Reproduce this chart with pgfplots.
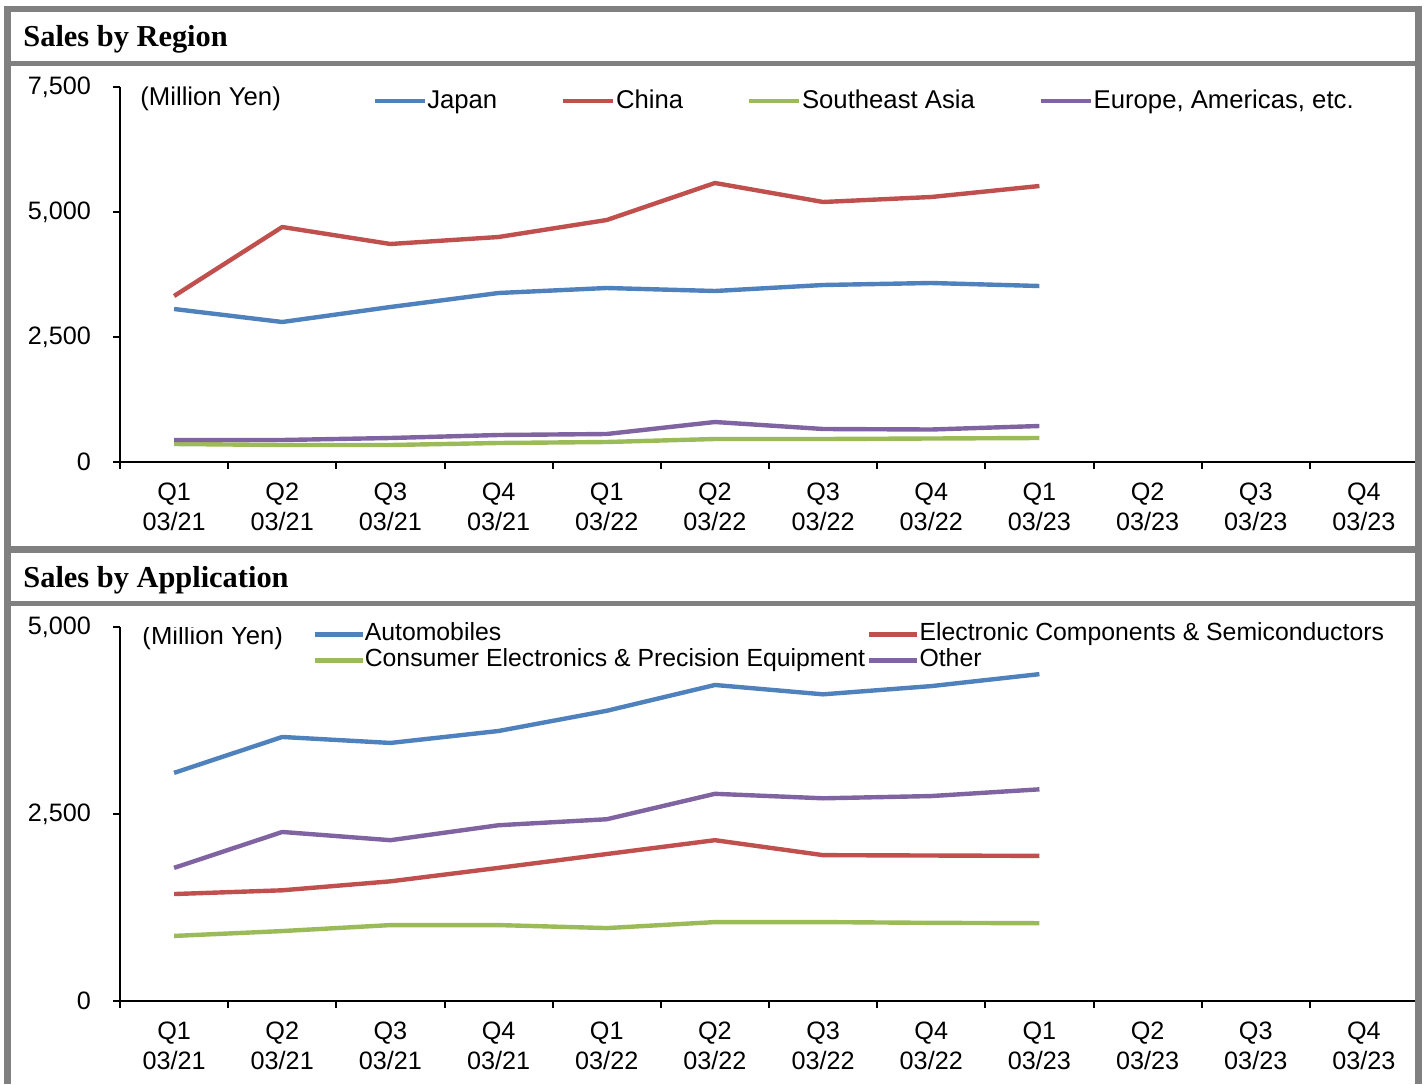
\documentclass[border=0pt]{standalone}
\usepackage{fontspec}
\setmainfont{Liberation Sans}
\newfontfamily\titlefont{Liberation Serif}
\usepackage{pgfplots}
\pgfplotsset{compat=1.18}
\definecolor{cblue}{HTML}{4F81BD}
\definecolor{cred}{HTML}{C0504D}
\definecolor{cgreen}{HTML}{9BBB59}
\definecolor{cpurple}{HTML}{8064A2}
\definecolor{bord}{HTML}{808080}
\pgfplotsset{
 panel/.style={
  scale only axis, width=649pt,
  xmin=0, xmax=12,
  axis x line*=bottom, axis y line*=left,
  axis line style={line width=1pt, -},
  xtick={0,...,12},
  x tick label as interval,
  xticklabels={{Q1\\03/21},{Q2\\03/21},{Q3\\03/21},{Q4\\03/21},{Q1\\03/22},{Q2\\03/22},{Q3\\03/22},{Q4\\03/22},{Q1\\03/23},{Q2\\03/23},{Q3\\03/23},{Q4\\03/23}},
  tick align=outside,
  major tick length=3.3pt,
  tick style={line width=1pt, black},
  ticklabel style={font=\fontsize{12.6}{15}\selectfont},
  xticklabel style={align=center, inner sep=0pt, yshift=-7pt},
  yticklabel style={inner sep=0pt, xshift=-11pt},
  legend style={draw=none, fill=none, inner sep=0pt,
    nodes={inner sep=0pt}},
  legend cell align=left,
  every axis plot/.append style={line width=2.2pt, line join=round},
 }
}
\begin{document}
\begin{tikzpicture}
\useasboundingbox (0pt,0pt) rectangle (712pt,542pt);
% top panel
\begin{axis}[panel, at={(60pt,311pt)}, anchor=origin, height=187.5pt,
  ymin=0, ymax=7500, ytick={0,2500,5000,7500}, yticklabels={0,{2,500},{5,000},{7,500}},
  legend columns=4,
  legend image code/.code={\draw[#1, line width=2.2pt] (0pt,0pt) -- (25pt,0pt);},
  legend style={at={(0.1942,0.963)}, anchor=west, font=\fontsize{12.85}{13}\selectfont,
    /tikz/every even column/.append style={column sep=32pt},
    /tikz/every odd column/.append style={column sep=0.2pt}}]
\addplot[cblue] coordinates {(0.5,3060)(1.5,2800)(2.5,3100)(3.5,3380)(4.5,3480)(5.5,3420)(6.5,3540)(7.5,3580)(8.5,3520)};
\addlegendentry{Japan}
\addplot[cred] coordinates {(0.5,3320)(1.5,4700)(2.5,4360)(3.5,4500)(4.5,4840)(5.5,5580)(6.5,5200)(7.5,5300)(8.5,5520)};
\addlegendentry{China}
\addplot[cgreen] coordinates {(0.5,360)(1.5,340)(2.5,340)(3.5,380)(4.5,400)(5.5,460)(6.5,460)(7.5,470)(8.5,480)};
\addlegendentry{Southeast Asia}
\addplot[cpurple] coordinates {(0.5,440)(1.5,440)(2.5,480)(3.5,540)(4.5,560)(5.5,800)(6.5,660)(7.5,650)(8.5,720)};
\addlegendentry{Europe, Americas, etc.}
\node[anchor=west, inner sep=0pt, font=\fontsize{12.85}{13}\selectfont] at (axis description cs:0.0154,0.969) {(Million Yen)};
\end{axis}
% bottom panel
\begin{axis}[panel, at={(60pt,41.5pt)}, anchor=origin, height=187pt,
  ymin=0, ymax=5000, ytick={0,2500,5000}, yticklabels={0,{2,500},{5,000}},
  legend columns=2,
  legend image code/.code={\draw[#1, line width=2.2pt] (0pt,0pt) -- (24pt,0pt);},
  legend style={at={(0.1479,0.945)}, anchor=west, font=\fontsize{12.4}{13}\selectfont,
    /tikz/every even column/.append style={column sep=1pt},
    /tikz/every odd column/.append style={column sep=0pt},
    nodes={inner sep=0pt, text height=9.5pt, text depth=3.5pt}}]
\addplot[cblue] coordinates {(0.5,3050)(1.5,3530)(2.5,3450)(3.5,3610)(4.5,3880)(5.5,4225)(6.5,4100)(7.5,4210)(8.5,4370)};
\addlegendentry{Automobiles}
\addplot[cred] coordinates {(0.5,1430)(1.5,1480)(2.5,1600)(3.5,1780)(4.5,1965)(5.5,2150)(6.5,1950)(7.5,1945)(8.5,1940)};
\addlegendentry{Electronic Components \& Semiconductors}
\addplot[cgreen] coordinates {(0.5,870)(1.5,935)(2.5,1015)(3.5,1015)(4.5,975)(5.5,1055)(6.5,1055)(7.5,1045)(8.5,1040)};
\addlegendentry{Consumer Electronics \& Precision Equipment}
\addplot[cpurple] coordinates {(0.5,1780)(1.5,2260)(2.5,2150)(3.5,2350)(4.5,2430)(5.5,2770)(6.5,2710)(7.5,2740)(8.5,2830)};
\addlegendentry{Other}
\node[anchor=west, inner sep=0pt, font=\fontsize{12.85}{13}\selectfont] at (axis description cs:0.017,0.970) {(Million Yen)};
\end{axis}
% frames (px -> 0.5pt, y flipped from 1084)
\fill[bord] (2pt,539pt) rectangle (711pt,536pt);   % top border y 6..12
\fill[bord] (2pt,539pt) rectangle (5.5pt,0pt);     % left x 4..11
\fill[bord] (707.5pt,539pt) rectangle (711pt,0pt); % right x 1415..1422
\fill[bord] (2pt,511.5pt) rectangle (711pt,509pt); % y 61..66
\fill[bord] (2pt,269pt) rectangle (711pt,265.5pt); % y 546..553
\fill[bord] (2pt,241.5pt) rectangle (711pt,239pt); % y 601..606
\node[anchor=base west, inner sep=0pt, font=\titlefont\bfseries\fontsize{15.2}{16}\selectfont] at (11.5pt,518.5pt) {Sales by Region};
\node[anchor=base west, inner sep=0pt, font=\titlefont\bfseries\fontsize{15.2}{16}\selectfont] at (11.5pt,248.5pt) {Sales by Application};
\end{tikzpicture}
\end{document}
